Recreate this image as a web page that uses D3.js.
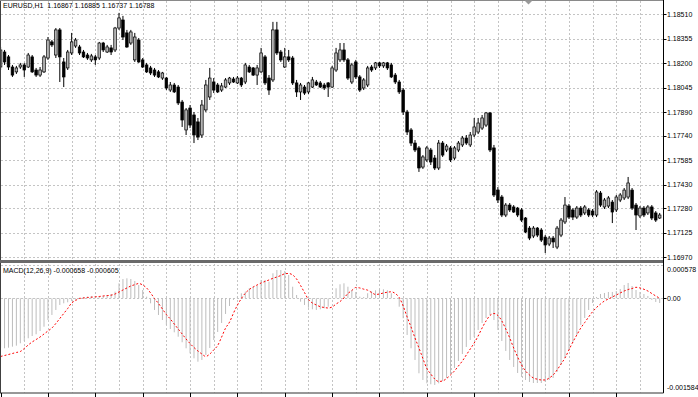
<!DOCTYPE html>
<html><head><meta charset="utf-8">
<script src="https://cdn.jsdelivr.net/npm/d3@7"></script>
<style>
html,body{margin:0;padding:0;background:#fff;overflow:hidden}
svg{display:block}
text{font-family:"Liberation Sans",Arial,sans-serif;font-size:7px;fill:#000}
</style>
</head><body>
<svg id="c" width="698" height="397"></svg>
<script>
const symbolTitle = "EURUSD,H1  1.16867 1.16885 1.16737 1.16788";
const macdTitle = "MACD(12,26,9) -0.000658 -0.000605";

const open = [1.18176,1.18271,1.18240,1.18176,1.18145,1.18176,1.18189,1.18176,1.18240,1.18157,
1.18125,1.18145,1.18233,1.18335,1.18252,1.18411,1.18208,1.18170,1.18265,1.18309,
1.18303,1.18271,1.18252,1.18221,1.18240,1.18233,1.18328,1.18271,1.18297,1.18284,
1.18423,1.18474,1.18392,1.18328,1.18221,1.18347,1.18221,1.18189,1.18170,1.18157,
1.18145,1.18106,1.18106,1.18030,1.18062,1.18049,1.17954,1.17777,1.17916,1.17872,
1.17828,1.17745,1.17904,1.17986,1.18081,1.18062,1.18030,1.18049,1.18075,1.18100,
1.18075,1.18106,1.18081,1.18176,1.18170,1.18125,1.18145,1.18240,1.18106,1.18094,
1.18411,1.18271,1.18176,1.18240,1.18233,1.18075,1.18018,1.18049,1.18018,1.18049,
1.18081,1.18075,1.18062,1.18075,1.18049,1.18157,1.18221,1.18284,1.18221,1.18081,
1.18208,1.18113,1.18043,1.18062,1.18176,1.18170,1.18202,1.18183,1.18202,1.18189,
1.18125,1.18081,1.18030,1.17891,1.17777,1.17694,1.17663,1.17542,1.17587,1.17650,
1.17599,1.17536,1.17694,1.17650,1.17663,1.17599,1.17650,1.17682,1.17726,1.17682,
1.17745,1.17764,1.17789,1.17808,1.17885,1.17663,1.17396,1.17352,1.17238,1.17301,
1.17289,1.17282,1.17270,1.17219,1.17155,1.17105,1.17155,1.17143,1.17098,1.17054,
1.17092,1.17035,1.17111,1.17194,1.17295,1.17270,1.17225,1.17282,1.17251,1.17270,
1.17263,1.17238,1.17377,1.17289,1.17295,1.17320,1.17270,1.17333,1.17346,1.17352,
1.17396,1.17301,1.17232,1.17282,1.17251,1.17289,1.17251,1.17219];

const high = [1.18303,1.18284,1.18252,1.18189,1.18183,1.18202,1.18202,1.18265,1.18252,1.18170,
1.18176,1.18252,1.18366,1.18347,1.18423,1.18423,1.18233,1.18284,1.18392,1.18360,
1.18316,1.18284,1.18265,1.18259,1.18252,1.18335,1.18335,1.18316,1.18316,1.18430,
1.18519,1.18500,1.18411,1.18411,1.18392,1.18360,1.18233,1.18202,1.18183,1.18170,
1.18157,1.18145,1.18113,1.18081,1.18075,1.18062,1.17967,1.17916,1.17935,1.17891,
1.17853,1.17967,1.18094,1.18170,1.18106,1.18075,1.18075,1.18106,1.18113,1.18113,
1.18119,1.18113,1.18202,1.18189,1.18176,1.18189,1.18297,1.18252,1.18125,1.18462,
1.18462,1.18284,1.18297,1.18284,1.18246,1.18094,1.18075,1.18062,1.18081,1.18113,
1.18094,1.18087,1.18075,1.18081,1.18183,1.18297,1.18328,1.18328,1.18233,1.18202,
1.18221,1.18125,1.18106,1.18183,1.18189,1.18208,1.18208,1.18208,1.18208,1.18202,
1.18138,1.18094,1.18043,1.17904,1.17789,1.17713,1.17675,1.17618,1.17675,1.17663,
1.17618,1.17713,1.17707,1.17688,1.17675,1.17675,1.17707,1.17739,1.17745,1.17764,
1.17853,1.17853,1.17872,1.17891,1.17891,1.17682,1.17415,1.17365,1.17314,1.17314,
1.17301,1.17289,1.17282,1.17225,1.17168,1.17168,1.17162,1.17155,1.17111,1.17105,
1.17105,1.17168,1.17219,1.17352,1.17308,1.17282,1.17295,1.17295,1.17301,1.17282,
1.17276,1.17396,1.17390,1.17346,1.17358,1.17333,1.17365,1.17377,1.17409,1.17479,
1.17409,1.17314,1.17295,1.17295,1.17301,1.17301,1.17263,1.17251];

const low = [1.18157,1.18189,1.18157,1.18113,1.18132,1.18164,1.18113,1.18170,1.18138,1.18113,
1.18113,1.18138,1.18221,1.18303,1.18233,1.18081,1.18049,1.18157,1.18252,1.18297,
1.18252,1.18233,1.18221,1.18208,1.18189,1.18221,1.18271,1.18265,1.18252,1.18271,
1.18411,1.18347,1.18297,1.18316,1.18208,1.18202,1.18170,1.18138,1.18125,1.18113,
1.18106,1.18094,1.18030,1.18018,1.18011,1.17935,1.17796,1.17745,1.17789,1.17694,
1.17713,1.17726,1.17891,1.17967,1.18011,1.18011,1.18018,1.18043,1.18062,1.18075,
1.18068,1.18049,1.18068,1.18138,1.18119,1.18062,1.18138,1.18062,1.17999,1.18081,
1.18252,1.18208,1.18170,1.18208,1.18062,1.17986,1.17967,1.17999,1.18005,1.18043,
1.18056,1.18043,1.18030,1.17986,1.18043,1.18145,1.18208,1.18208,1.18094,1.18068,
1.18100,1.18018,1.18030,1.18049,1.18145,1.18157,1.18170,1.18170,1.18157,1.18106,
1.18068,1.18005,1.17872,1.17745,1.17675,1.17637,1.17511,1.17530,1.17574,1.17555,
1.17523,1.17523,1.17606,1.17637,1.17574,1.17587,1.17637,1.17669,1.17682,1.17669,
1.17732,1.17751,1.17777,1.17796,1.17637,1.17352,1.17314,1.17225,1.17225,1.17257,
1.17251,1.17225,1.17194,1.17124,1.17079,1.17092,1.17098,1.17067,1.16997,1.17041,
1.17029,1.17022,1.17098,1.17181,1.17213,1.17206,1.17213,1.17225,1.17238,1.17225,
1.17225,1.17225,1.17289,1.17276,1.17282,1.17187,1.17257,1.17320,1.17333,1.17339,
1.17270,1.17143,1.17219,1.17225,1.17238,1.17206,1.17194,1.17213];

const close = [1.18284,1.18208,1.18176,1.18125,1.18170,1.18189,1.18157,1.18252,1.18145,1.18125,
1.18157,1.18240,1.18347,1.18316,1.18411,1.18240,1.18113,1.18271,1.18335,1.18347,
1.18265,1.18240,1.18233,1.18246,1.18221,1.18328,1.18284,1.18303,1.18271,1.18423,
1.18487,1.18366,1.18303,1.18398,1.18366,1.18208,1.18176,1.18145,1.18138,1.18125,
1.18113,1.18138,1.18043,1.18062,1.18018,1.17948,1.17840,1.17904,1.17808,1.17745,
1.17732,1.17935,1.18062,1.18106,1.18030,1.18018,1.18056,1.18094,1.18106,1.18081,
1.18106,1.18062,1.18189,1.18145,1.18125,1.18170,1.18265,1.18075,1.18030,1.18411,
1.18265,1.18221,1.18240,1.18221,1.18075,1.18018,1.18062,1.18011,1.18075,1.18094,
1.18062,1.18049,1.18043,1.18049,1.18170,1.18265,1.18284,1.18221,1.18106,1.18189,
1.18113,1.18030,1.18094,1.18170,1.18157,1.18202,1.18183,1.18202,1.18170,1.18113,
1.18081,1.18018,1.17891,1.17764,1.17694,1.17650,1.17536,1.17606,1.17663,1.17574,
1.17536,1.17694,1.17618,1.17675,1.17587,1.17663,1.17694,1.17726,1.17694,1.17745,
1.17796,1.17821,1.17853,1.17885,1.17650,1.17365,1.17333,1.17238,1.17301,1.17270,
1.17257,1.17238,1.17206,1.17130,1.17092,1.17155,1.17111,1.17079,1.17048,1.17092,
1.17067,1.17155,1.17206,1.17301,1.17225,1.17225,1.17282,1.17238,1.17289,1.17238,
1.17238,1.17384,1.17301,1.17333,1.17346,1.17257,1.17352,1.17365,1.17396,1.17441,
1.17282,1.17238,1.17282,1.17238,1.17289,1.17219,1.17206,1.17238];

const macdMain = [-0.000828,-0.000838,-0.000828,-0.000811,-0.000794,-0.000754,-0.000716,-0.000670,-0.000632,-0.000603,
-0.000548,-0.000476,-0.000364,-0.000280,-0.000196,-0.000112,-0.000084,-0.000067,-0.000045,-0.000028,
0.000010,0.000022,0.000030,0.000039,0.000039,0.000030,0.000039,0.000055,0.000072,0.000111,
0.000251,0.000323,0.000335,0.000323,0.000290,0.000223,0.000139,0.000027,-0.000084,-0.000196,
-0.000280,-0.000364,-0.000447,-0.000515,-0.000570,-0.000644,-0.000737,-0.000838,-0.000922,-0.001006,
-0.001063,-0.001034,-0.000950,-0.000833,-0.000699,-0.000565,-0.000414,-0.000263,-0.000129,-0.000028,
0.000027,0.000084,0.000111,0.000168,0.000194,0.000211,0.000307,0.000307,0.000278,0.000419,
0.000474,0.000474,0.000458,0.000391,0.000194,0.000055,-0.000057,-0.000112,-0.000158,-0.000184,
-0.000196,-0.000184,-0.000168,-0.000141,-0.000005,0.000168,0.000235,0.000251,0.000194,0.000139,
0.000106,0.000027,0.000022,0.000084,0.000117,0.000134,0.000151,0.000151,0.000134,0.000084,
-0.000003,-0.000141,-0.000335,-0.000615,-0.000838,-0.001034,-0.001257,-0.001369,-0.001425,-0.001441,
-0.001453,-0.001425,-0.001386,-0.001336,-0.001269,-0.001168,-0.001051,-0.000934,-0.000816,-0.000699,
-0.000649,-0.000531,-0.000414,-0.000330,-0.000280,-0.000364,-0.000531,-0.000716,-0.000883,-0.001034,
-0.001151,-0.001252,-0.001319,-0.001369,-0.001403,-0.001420,-0.001420,-0.001420,-0.001403,-0.001369,
-0.001336,-0.001235,-0.001118,-0.001001,-0.000866,-0.000749,-0.000615,-0.000447,-0.000330,-0.000196,
-0.000079,0.000022,0.000072,0.000089,0.000106,0.000106,0.000122,0.000156,0.000223,0.000256,
0.000206,0.000139,0.000106,0.000072,0.000039,-0.000028,-0.000062,-0.000079];

const macdSignal = [-0.000975,-0.000959,-0.000942,-0.000925,-0.000908,-0.000892,-0.000841,-0.000783,-0.000732,-0.000691,
-0.000649,-0.000598,-0.000548,-0.000498,-0.000422,-0.000339,-0.000255,-0.000171,-0.000079,-0.000037,
-0.000003,0.000005,0.000013,0.000018,0.000025,0.000030,0.000039,0.000045,0.000052,0.000072,
0.000106,0.000139,0.000173,0.000206,0.000228,0.000248,0.000223,0.000173,0.000089,-0.000003,
-0.000087,-0.000179,-0.000272,-0.000347,-0.000431,-0.000515,-0.000598,-0.000682,-0.000758,-0.000825,
-0.000883,-0.000934,-0.000975,-0.000934,-0.000866,-0.000791,-0.000650,-0.000500,-0.000400,-0.000250,
-0.000115,-0.000005,0.000085,0.000147,0.000189,0.000223,0.000256,0.000282,0.000307,0.000335,
0.000357,0.000382,0.000411,0.000416,0.000391,0.000323,0.000215,0.000097,-0.000020,-0.000079,
-0.000112,-0.000141,-0.000154,-0.000163,-0.000146,-0.000096,-0.000054,0.000005,0.000080,0.000131,
0.000181,0.000173,0.000153,0.000136,0.000097,0.000064,0.000072,0.000089,0.000101,0.000109,
0.000080,0.000013,-0.000129,-0.000313,-0.000481,-0.000665,-0.000833,-0.001009,-0.001177,-0.001269,
-0.001353,-0.001394,-0.001386,-0.001344,-0.001285,-0.001218,-0.001135,-0.001051,-0.000950,-0.000850,
-0.000749,-0.000632,-0.000498,-0.000380,-0.000288,-0.000255,-0.000288,-0.000380,-0.000515,-0.000665,
-0.000833,-0.000984,-0.001118,-0.001218,-0.001285,-0.001336,-0.001356,-0.001369,-0.001369,-0.001336,
-0.001285,-0.001202,-0.001101,-0.001001,-0.000866,-0.000732,-0.000615,-0.000498,-0.000406,-0.000313,
-0.000225,-0.000154,-0.000096,-0.000045,-0.000012,0.000022,0.000055,0.000089,0.000122,0.000147,
0.000164,0.000184,0.000173,0.000151,0.000122,0.000080,0.000039,0.000000];

const priceTicks = [1.18510,1.18355,1.18200,1.18045,1.17890,1.17740,1.17585,1.17430,1.17280,1.17125,1.16970];
const macdTicks = [0.000578, 0, -0.001584];
const macdTickLabels = ["0.000578", "0.00", "-0.001584"];
const gridEveryBars = 6;
const timeTickEveryBars = 12;

// ---------- layout ----------
const svg = d3.select("#c");
const axisX = 663.5;
const mainBottom = 259.5;
const macdTopPx = 263.8, macdBottomPx = 392.8;
const n = Math.min(open.length, high.length, low.length, close.length);
const idx = d3.range(n);

const x = d3.scaleLinear().domain([0, 167]).range([0.6, 659.7]);
const y = d3.scaleLinear().domain([1.16970, 1.18510]).range([257.3, 14.3]);
const ym = d3.scaleLinear().domain([-0.001584, 0.000578]).range([macdBottomPx, macdTopPx]);

const gridColor = "#c4c4c4";
const g = svg.append("g");

// vertical grid (both panes)
const gridBars = idx.filter(i => i > 0 && i % gridEveryBars === 0);
g.selectAll("line.vg").data(gridBars).join("line")
  .attr("x1", i => Math.round(x(i)) + 0.5).attr("x2", i => Math.round(x(i)) + 0.5)
  .attr("y1", 1).attr("y2", mainBottom)
  .attr("stroke", gridColor).attr("stroke-dasharray", "2,2");
g.selectAll("line.vg2").data(gridBars).join("line")
  .attr("x1", i => Math.round(x(i)) + 0.5).attr("x2", i => Math.round(x(i)) + 0.5)
  .attr("y1", 264).attr("y2", 392.5)
  .attr("stroke", gridColor).attr("stroke-dasharray", "2,2");

// horizontal price grid
g.selectAll("line.hg").data(priceTicks).join("line")
  .attr("x1", 1).attr("x2", axisX)
  .attr("y1", d => Math.round(y(d)) + 0.5).attr("y2", d => Math.round(y(d)) + 0.5)
  .attr("stroke", gridColor).attr("stroke-dasharray", "2,2");

// macd grid: top level and zero level
g.append("line").attr("x1", 1).attr("x2", axisX)
  .attr("y1", Math.round(ym(macdTicks[0])) + 1.5).attr("y2", Math.round(ym(macdTicks[0])) + 1.5)
  .attr("stroke", gridColor).attr("stroke-dasharray", "2,2");
g.append("line").attr("x1", 1).attr("x2", axisX)
  .attr("y1", Math.round(ym(0)) + 0.5).attr("y2", Math.round(ym(0)) + 0.5)
  .attr("stroke", gridColor).attr("stroke-dasharray", "2,2");

// ---------- MACD histogram ----------
svg.append("g").selectAll("line").data(idx).join("line")
  .attr("x1", i => x(i)).attr("x2", i => x(i))
  .attr("y1", ym(0)).attr("y2", i => ym(macdMain[i]))
  .attr("stroke", "#bdbdbd").attr("stroke-width", 1);

// signal line
svg.append("path")
  .attr("d", d3.line().x(i => x(i)).y(i => ym(macdSignal[i])).curve(d3.curveMonotoneX)(idx))
  .attr("fill", "none").attr("stroke", "#ff0000").attr("stroke-width", 1)
  .attr("stroke-dasharray", "2,2");

// ---------- candles ----------
const cg = svg.append("g");
cg.selectAll("line").data(idx).join("line")
  .attr("x1", i => x(i)).attr("x2", i => x(i))
  .attr("y1", i => y(high[i])).attr("y2", i => y(low[i]))
  .attr("stroke", "#000").attr("stroke-width", 1);
cg.selectAll("rect").data(idx).join("rect")
  .attr("x", i => x(i) - 1.3).attr("width", 2.6)
  .attr("y", i => y(Math.max(open[i], close[i])))
  .attr("height", i => Math.max(0.8, Math.abs(y(open[i]) - y(close[i]))))
  .attr("fill", i => close[i] >= open[i] ? "#b4b4b4" : "#000")
  .attr("stroke", "#000").attr("stroke-width", 0.7);

// ---------- frame ----------
svg.append("line").attr("x1", 0.5).attr("x2", 0.5).attr("y1", 0).attr("y2", 393).attr("stroke", "#404040");
svg.append("line").attr("x1", 0).attr("x2", axisX).attr("y1", 0.5).attr("y2", 0.5).attr("stroke", "#8a8a8a");
svg.append("rect").attr("x", 0).attr("y", 260).attr("width", axisX).attr("height", 3).attr("fill", "#6a6a6a");
svg.append("line").attr("x1", axisX).attr("x2", axisX).attr("y1", 0).attr("y2", 393).attr("stroke", "#000");
svg.append("line").attr("x1", 0).attr("x2", axisX).attr("y1", 393).attr("y2", 393).attr("stroke", "#303030");

// time ticks at bottom
const timeBars = idx.filter(i => i % timeTickEveryBars === 0);
svg.append("g").selectAll("line").data(timeBars).join("line")
  .attr("x1", i => Math.round(x(i)) + 0.5).attr("x2", i => Math.round(x(i)) + 0.5)
  .attr("y1", 393).attr("y2", 397).attr("stroke", "#000");

// shift marker
svg.append("path").attr("d", "M524.5,0.5 L532.5,0.5 L528.5,4.5 Z").attr("fill", "#9a9a9a");

// ---------- right axis labels ----------
const ra = svg.append("g");
ra.selectAll("line").data(priceTicks).join("line")
  .attr("x1", axisX).attr("x2", axisX + 3)
  .attr("y1", d => Math.round(y(d)) + 0.5).attr("y2", d => Math.round(y(d)) + 0.5)
  .attr("stroke", "#000");
ra.selectAll("text").data(priceTicks).join("text")
  .attr("x", 667).attr("y", d => y(d) + 2.5)
  .text(d => d.toFixed(5));

const macdLabelY = [ym(macdTicks[0]) + 5.5, ym(macdTicks[1]), ym(macdTicks[2]) - 5.8];
svg.append("g").selectAll("text").data(macdTickLabels).join("text")
  .attr("x", 667).attr("y", (d, k) => macdLabelY[k] + 2.5)
  .text(d => d);
svg.append("line").attr("x1", axisX).attr("x2", axisX + 3)
  .attr("y1", Math.round(ym(0)) + 0.5).attr("y2", Math.round(ym(0)) + 0.5).attr("stroke", "#000");

// ---------- titles ----------
svg.append("text").attr("x", 3).attr("y", 7.6).attr("xml:space", "preserve").text(symbolTitle);
svg.append("text").attr("x", 3).attr("y", 272.5).text(macdTitle);
</script>
</body></html>
